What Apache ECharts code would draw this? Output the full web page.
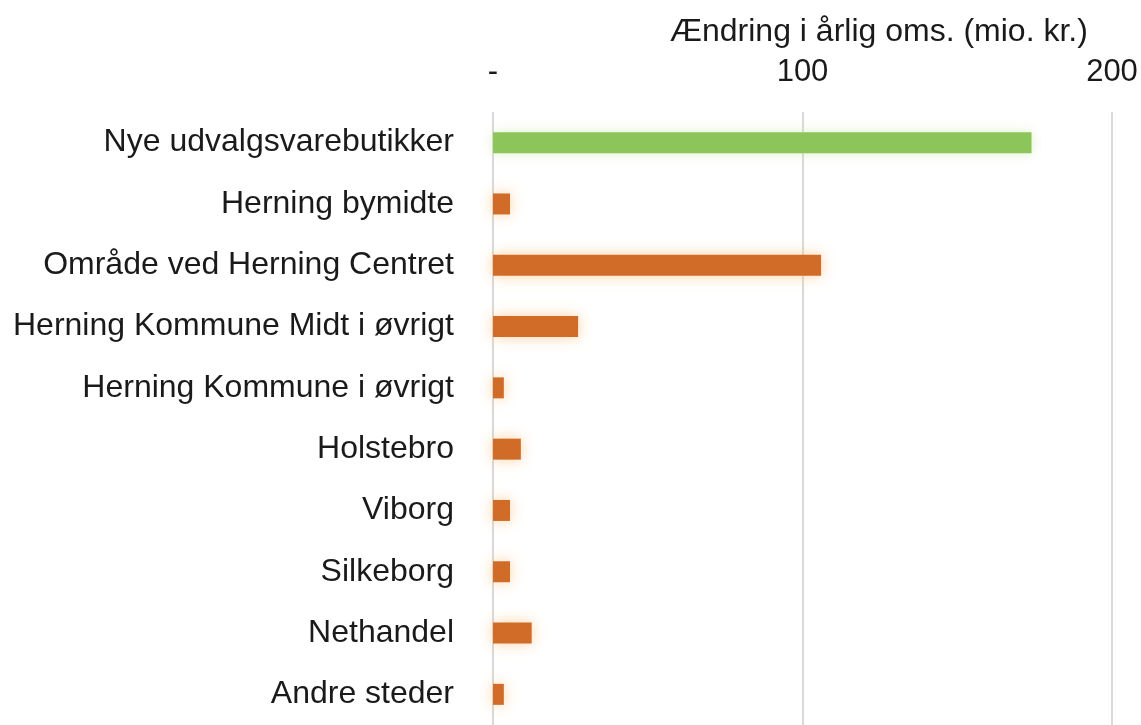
<!DOCTYPE html>
<html>
<head>
<meta charset="utf-8">
<script src="https://cdn.jsdelivr.net/npm/echarts@6/dist/echarts.min.js"></script>
<style>
html,body{margin:0;padding:0;background:#fff;}
#chart{width:1141px;height:725px;}
</style>
</head>
<body>
<div id="chart"></div>
<script>
const categories = [
  "Nye udvalgsvarebutikker",
  "Herning bymidte",
  "Område ved Herning Centret",
  "Herning Kommune Midt i øvrigt",
  "Herning Kommune i øvrigt",
  "Holstebro",
  "Viborg",
  "Silkeborg",
  "Nethandel",
  "Andre steder"
];
const values = [174, 5.5, 106, 27.5, 3.5, 9, 5.5, 5.5, 12.5, 3.5];
const highlight = [true, false, false, false, false, false, false, false, false, false];
const axisTitle = "Ændring i årlig oms. (mio. kr.)";

const chart = echarts.init(document.getElementById('chart'), null, {renderer: 'canvas'});
const font = "'Liberation Sans', Arial, sans-serif";
chart.setOption({
  animation: false,
  backgroundColor: '#ffffff',
  title: {
    text: axisTitle,
    left: 665, top: 11,
    textStyle: {fontFamily: font, fontSize: 32, fontWeight: 'normal', color: '#1a1a1a'}
  },
  grid: {left: 493, right: 29, top: 112, bottom: -3, containLabel: false},
  xAxis: {
    type: 'value', position: 'top', min: 0, max: 200, interval: 100,
    axisLine: {show: false}, axisTick: {show: false},
    splitLine: {show: true, lineStyle: {color: '#d9d9d9', width: 2}},
    axisLabel: {
      fontFamily: font, fontSize: 31, color: '#1a1a1a', margin: 24,
      formatter: v => v === 0 ? '-' : String(v)
    }
  },
  yAxis: {
    type: 'category', inverse: true, data: categories,
    axisLine: {show: false}, axisTick: {show: false},
    axisLabel: {fontFamily: font, fontSize: 32, color: '#1a1a1a', margin: 39}
  },
  series: [{
    type: 'bar',
    barWidth: 21,
    data: values.map((v, i) => ({
      value: v,
      itemStyle: highlight[i]
        ? {color: '#8cc65a', shadowColor: 'rgba(200,230,170,0.6)', shadowBlur: 12}
        : {color: '#d06c28', shadowColor: 'rgba(255,190,120,0.7)', shadowBlur: 14}
    }))
  }]
});
</script>
</body>
</html>
